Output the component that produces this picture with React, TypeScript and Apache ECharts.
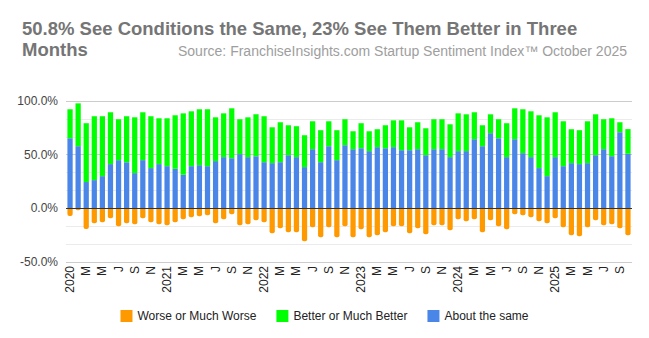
import React, { useEffect, useRef } from "react";
import * as echarts from "echarts";

const years = [2020, 2021, 2022, 2023, 2024, 2025];
const monthLetters = ["", "F", "M", "A", "M", "J", "J", "A", "S", "O", "N", "D"];
const months: string[] = [];
years.forEach((y) => {
  for (let m = 1; m <= 12; m++) {
    if (y === 2025 && m > 10) break;
    months.push(`${y}-${String(m).padStart(2, "0")}`);
  }
});

const aboutSame = [
  65.3, 57.9, 24.5, 26.3, 30.0, 41.2, 44.9, 43.0, 32.8, 44.9, 37.5, 41.2,
  39.3, 36.8, 31.3, 39.3, 40.2, 39.3, 44.0, 47.7, 46.7, 50.5, 47.7, 48.6,
  43.0, 42.1, 43.0, 49.5, 47.7, 38.4, 55.1, 43.0, 57.9, 44.9, 58.8, 55.1,
  56.0, 53.3, 57.0, 56.0, 57.0, 54.2, 54.2, 55.1, 49.5, 55.1, 55.1, 47.7,
  53.3, 53.3, 64.4, 57.9, 70.0, 65.3, 47.7, 64.4, 51.4, 47.7, 37.5, 30.0,
  47.7, 39.3, 42.1, 41.2, 42.1, 49.5, 55.1, 48.6, 70.9, 50.8,
];
const better = [
  27.0, 39.9, 54.8, 59.5, 55.8, 48.3, 38.1, 42.8, 52.0, 44.6, 48.3, 42.7,
  44.6, 49.9, 57.2, 51.1, 52.1, 53.0, 40.8, 40.8, 46.5, 32.5, 37.1, 39.0,
  42.8, 33.4, 37.2, 27.9, 28.8, 29.7, 26.0, 29.8, 23.2, 27.9, 24.2, 16.7,
  23.3, 18.5, 16.7, 21.4, 25.0, 27.8, 21.3, 25.1, 25.1, 27.9, 27.9, 30.6,
  35.2, 34.3, 25.1, 19.5, 17.6, 17.7, 31.6, 28.8, 40.9, 42.7, 49.2, 54.8,
  41.8, 41.8, 31.6, 31.6, 39.0, 38.1, 27.9, 35.3, 9.3, 23.0,
];
const worse = [
  -7.1, -1.9, -19.2, -13.9, -13.0, -9.3, -16.7, -13.9, -14.9, -9.3, -13.0, -14.9,
  -15.8, -13.0, -10.2, -8.4, -7.4, -6.5, -13.9, -10.2, -5.6, -15.8, -14.9, -11.1,
  -13.0, -23.2, -18.6, -22.3, -22.3, -30.7, -17.6, -26.9, -17.6, -26.9, -16.7, -26.9,
  -19.5, -26.9, -25.1, -22.3, -16.7, -16.7, -23.2, -18.6, -24.1, -15.8, -15.8, -20.4,
  -10.2, -12.1, -10.2, -22.3, -11.1, -16.7, -19.5, -5.6, -6.5, -8.4, -12.1, -13.9,
  -9.3, -17.6, -25.1, -26.0, -17.6, -11.1, -15.8, -14.9, -18.6, -25.1,
];

const titleText = "50.8% See Conditions the Same, 23% See Them Better in Three\nMonths";
const sourceText = "Source: FranchiseInsights.com Startup Sentiment Index\u2122 October 2025";
const FONT = "'Liberation Sans', Arial, sans-serif";

export default function App() {
  const ref = useRef<HTMLDivElement>(null);
  useEffect(() => {
    document.body.style.margin = "0";
    if (!ref.current) return;
    const chart = echarts.init(ref.current, null, { renderer: "svg" });
    chart.setOption({
      animation: false,
      backgroundColor: "#ffffff",
      textStyle: { fontFamily: FONT },
      title: [
        {
          text: titleText,
          left: 17,
          top: 13,
          textStyle: { fontFamily: FONT, fontSize: 18.5, fontWeight: "bold", color: "#757575", lineHeight: 21 },
        },
        {
          text: sourceText,
          right: 17,
          top: 39,
          textStyle: { fontFamily: FONT, fontSize: 14, fontWeight: "normal", color: "#9e9e9e" },
        },
      ],
      legend: {
        data: ["Worse or Much Worse", "Better or Much Better", "About the same"],
        left: "center",
        top: 305,
        icon: "rect",
        itemWidth: 12,
        itemHeight: 12,
        itemGap: 20,
        textStyle: { fontFamily: FONT, fontSize: 12, color: "#222" },
      },
      grid: { left: 66, right: 17, top: 101, height: 161 },
      xAxis: {
        type: "category",
        data: months,
        axisLine: { show: false, onZero: false },
        axisTick: { show: false },
        axisLabel: {
          interval: 1,
          rotate: 90,
          margin: 4,
          fontSize: 12,
          color: "#222",
          fontFamily: FONT,
          formatter: (v: string) => {
            const [y, m] = v.split("-");
            const mi = parseInt(m, 10) - 1;
            return mi === 0 ? y : monthLetters[mi];
          },
        },
      },
      yAxis: {
        type: "value",
        min: -50,
        max: 100,
        interval: 50,
        axisLine: { show: false },
        axisTick: { show: false },
        axisLabel: {
          fontSize: 12,
          color: "#444",
          margin: 8,
          fontFamily: FONT,
          formatter: (v: number) => v.toFixed(1) + "%",
        },
        splitLine: { lineStyle: { color: "#cccccc", width: 1 } },
        minorTick: { show: false, splitNumber: 3 },
        minorSplitLine: { show: true, lineStyle: { color: "#ebebeb", width: 1 } },
      },
      series: [
        {
          name: "About the same",
          type: "bar",
          stack: "a",
          barWidth: "65%",
          itemStyle: { color: "#4a86e8" },
          data: aboutSame,
          markLine: {
            silent: true,
            symbol: "none",
            label: { show: false },
            lineStyle: { color: "#333333", width: 1, type: "solid" },
            data: [{ yAxis: 0 }],
          },
        },
        {
          name: "Better or Much Better",
          type: "bar",
          stack: "a",
          barWidth: "65%",
          itemStyle: { color: "#00ff00" },
          data: better,
        },
        {
          name: "Worse or Much Worse",
          type: "bar",
          stack: "a",
          barWidth: "65%",
          itemStyle: { color: "#ff9900", borderRadius: [0, 0, 2, 2] },
          data: worse,
        },
      ],
    });
    return () => chart.dispose();
  }, []);
  return <div ref={ref} style={{ width: 649, height: 338 }} />;
}
